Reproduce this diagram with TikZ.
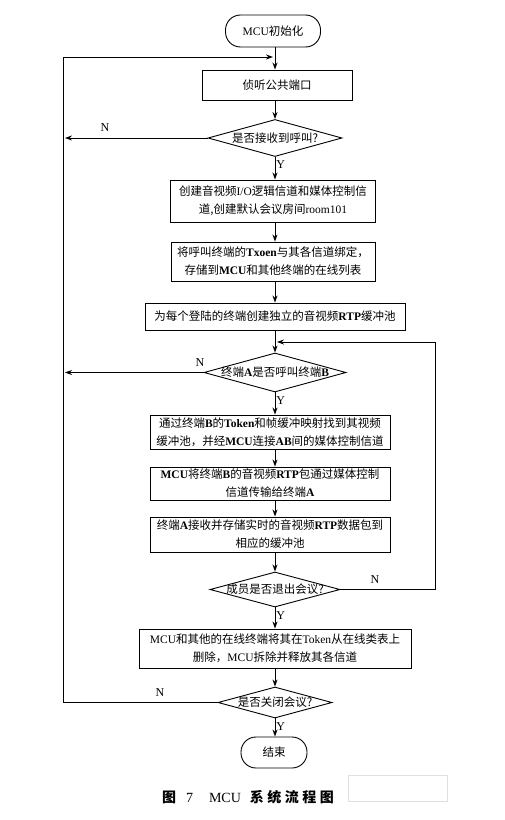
\documentclass[tikz,border=0pt]{standalone}
\usepackage{fontspec}
\setmainfont{Liberation Serif}
\newfontfamily\cjk{Noto Sans CJK SC}
\usetikzlibrary{arrows.meta,shapes.geometric}
\tikzset{
  base/.style={draw, line width=0.9bp, inner sep=0pt, align=center,
    font=\cjk\fontsize{11.5bp}{18bp}\selectfont},
  procbox/.style={base, rectangle},
  termbox/.style={base, rectangle, rounded corners=15bp},
  decbox/.style={base, diamond},
  flow/.style={line width=0.9bp, -{Stealth[length=7bp,width=5bp]}},
  yn/.style={font=\fontsize{12bp}{12bp}\selectfont, inner sep=1bp}
}
\begin{document}
\begin{tikzpicture}[x=1bp,y=-1bp]
\useasboundingbox (0,0) rectangle (505,820);
\coordinate (ax) at (275,0);
% nodes
\node[termbox, minimum width=95bp, minimum height=32bp] (s) at (273,31) {\textrm{MCU}初始化};
\node[procbox, minimum width=150bp, minimum height=30bp] (b1) at (277,85) {侦听公共端口};
\node[decbox, minimum width=134bp, minimum height=37bp] (d1) at (275,138) {};
\node[font=\cjk\fontsize{11.5bp}{18bp}\selectfont] (t1) at (d1) {是否接收到呼叫?};
\node[procbox, minimum width=205bp, minimum height=42bp] (b2) at (273,201) {创建音视频\textrm{I/O}逻辑信道和媒体控制信\\道,创建默认会议房间\textrm{room101}};
\node[procbox, minimum width=204bp, minimum height=39bp] (b3) at (273,261.5) {将呼叫终端的\textrm{\textbf{Txoen}}与其各信道绑定，\\存储到\textrm{\textbf{MCU}}和其他终端的在线列表};
\node[procbox, minimum width=260bp, minimum height=27bp] (b4) at (275,316.5) {为每个登陆的终端创建独立的音视频\textrm{\textbf{RTP}}缓冲池};
\node[decbox, minimum width=142bp, minimum height=39bp] (d2) at (275,372.5) {};
\node[font=\cjk\fontsize{11.5bp}{18bp}\selectfont] (t2) at (d2) {终端\textrm{\textbf{A}}是否呼叫终端\textrm{\textbf{B}}};
\node[procbox, minimum width=240bp, minimum height=34bp] (b5) at (270,432) {通过终端\textrm{\textbf{B}}的\textrm{\textbf{Token}}和帧缓冲映射找到其视频\\缓冲池，并经\textrm{\textbf{MCU}}连接\textrm{\textbf{AB}}间的媒体控制信道};
\node[procbox, minimum width=240bp, minimum height=33bp] (b6) at (270,483.5) {\textrm{\textbf{MCU}}将终端\textrm{\textbf{B}}的音视频\textrm{\textbf{RTP}}包通过媒体控制\\信道传输给终端\textrm{\textbf{A}}};
\node[procbox, minimum width=240bp, minimum height=35bp] (b7) at (270,534.5) {终端\textrm{\textbf{A}}接收并存储实时的音视频\textrm{\textbf{RTP}}数据包到\\相应的缓冲池};
\node[decbox, minimum width=130bp, minimum height=35bp] (d3) at (275,589.5) {};
\node[font=\cjk\fontsize{11.5bp}{18bp}\selectfont] (t3) at (d3) {成员是否退出会议?};
\node[procbox, minimum width=272bp, minimum height=39bp] (b8) at (275,648.5) {\textrm{MCU}和其他的在线终端将其在\textrm{Token}从在线类表上\\删除，\textrm{MCU}拆除并释放其各信道};
\node[decbox, minimum width=114bp, minimum height=31bp] (d4) at (275,702.5) {};
\node[font=\cjk\fontsize{11.5bp}{18bp}\selectfont] (t4) at (d4) {是否关闭会议?};
\node[termbox, minimum width=66bp, minimum height=31bp] (e) at (274,752.5) {结束};
% helper coordinates
\coordinate (L1) at (65,138);
\coordinate (L2) at (65,372.5);
\coordinate (L4) at (63,702.5);
\coordinate (Ltop) at (63,57);
\coordinate (J1) at (275,57);
\coordinate (R3) at (435,589.5);
\coordinate (Rtop) at (435,342);
\coordinate (J2) at (275,342);
% main flow (vertical at the axis)
\draw[flow] (s.south -| ax) -- (b1.north -| ax);
\draw[flow] (b1.south -| ax) -- (d1.north);
\draw[flow] (d1.south) -- node[yn, right, pos=0.35] {Y} (b2.north -| ax);
\draw[flow] (b2.south -| ax) -- (b3.north -| ax);
\draw[flow] (b3.south -| ax) -- (b4.north -| ax);
\draw[flow] (b4.south -| ax) -- (d2.north);
\draw[flow] (d2.south) -- node[yn, right, pos=0.35] {Y} (b5.north -| ax);
\draw[flow] (b5.south -| ax) -- (b6.north -| ax);
\draw[flow] (b6.south -| ax) -- (b7.north -| ax);
\draw[flow] (b7.south -| ax) -- (d3.north);
\draw[flow] (d3.south) -- node[yn, right, pos=0.4] {Y} (b8.north -| ax);
\draw[flow] (b8.south -| ax) -- (d4.north);
\draw[flow] (d4.south) -- node[yn, right, pos=0.45] {Y} (e.north -| ax);
% N branches
\draw[flow] (d1.west) -- (L1);
\node[yn] (n1) at (105,128) {N};
\draw[flow] (d2.west) -- (L2);
\node[yn] (n2) at (200,363) {N};
\draw[flow] (d4.west) -- (L4) -- (Ltop) -- ([xshift=-2bp]J1);
\node[yn] (n4) at (160,693) {N};
\draw[flow] (d3.east) -- (R3) -- (Rtop) -- ([xshift=2bp]J2);
\node[yn] (n3) at (375,580) {N};
% caption
\node[font=\fontsize{14bp}{14bp}\selectfont] (cap) at (248,797)
  {{\cjk\bfseries 图}\hspace{10bp}7\hspace{16bp}MCU\hspace{9bp}{\cjk\bfseries 系\hspace{3.5bp}统\hspace{3.5bp}流\hspace{3.5bp}程\hspace{3.5bp}图}};
\node[draw=black!12, line width=0.6bp, minimum width=99bp, minimum height=26bp, inner sep=0pt] (blank) at (397.5,788) {};
\end{tikzpicture}
\end{document}
